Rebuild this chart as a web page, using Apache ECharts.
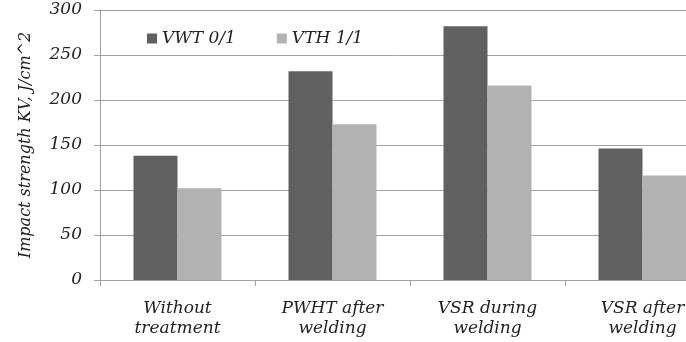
<!DOCTYPE html>
<html><head><meta charset="utf-8">
<script src="https://cdn.jsdelivr.net/npm/echarts@6/dist/echarts.min.js"></script>
<style>html,body{margin:0;padding:0;background:#fff}#c{width:686px;height:342px}</style>
</head><body><div id="c"></div>
<script>
const categories = ["Without\ntreatment", "PWHT after\nwelding", "VSR during\nwelding", "VSR after\nwelding"];
const seriesNames = ["VWT 0/1", "VTH 1/1"];
const vwt = [138, 232, 282, 146];
const vth = [102, 173, 216, 116];
const yTicks = { min: 0, max: 300, interval: 50 };
const yTitle = "Impact strength KV, J/cm^2";

const font = "DejaVu Serif";
const chart = echarts.init(document.getElementById('c'), null, { renderer: 'canvas' });
chart.setOption({
  animation: false,
  backgroundColor: '#ffffff',
  grid: { left: 100, top: 10, width: 620, height: 270, containLabel: false, outerBoundsMode: 'none' },
  legend: {
    left: 142, top: 25, itemWidth: 10, itemHeight: 10, itemGap: 41, icon: 'rect',
    textStyle: { fontFamily: font, fontStyle: 'italic', fontSize: 17, color: '#222' },
    data: seriesNames
  },
  xAxis: {
    type: 'category', data: categories,
    axisLine: { lineStyle: { color: '#a0a0a0' } },
    axisTick: { show: true, length: 6, lineStyle: { color: '#a0a0a0' } },
    axisLabel: { fontFamily: font, fontStyle: 'italic', fontSize: 17, color: '#222', lineHeight: 20, margin: 19, interval: 0 }
  },
  yAxis: {
    type: 'value', min: yTicks.min, max: yTicks.max, interval: yTicks.interval,
    name: yTitle, nameLocation: 'middle', nameGap: 66, nameRotate: 90,
    nameTextStyle: { fontFamily: font, fontStyle: 'italic', fontSize: 16, color: '#222' },
    axisLine: { show: true, lineStyle: { color: '#a0a0a0' } },
    axisTick: { show: true, length: 6, lineStyle: { color: '#a0a0a0' } },
    splitLine: { lineStyle: { color: '#a0a0a0' } },
    axisLabel: { fontFamily: font, fontStyle: 'italic', fontSize: 17, color: '#222', margin: 18 }
  },
  series: [
    { name: seriesNames[0], type: 'bar', data: vwt, barWidth: 44, barGap: '0%', itemStyle: { color: '#606060' } },
    { name: seriesNames[1], type: 'bar', data: vth, barWidth: 44, barGap: '0%', itemStyle: { color: '#b2b2b2' } }
  ]
});
</script></body></html>
